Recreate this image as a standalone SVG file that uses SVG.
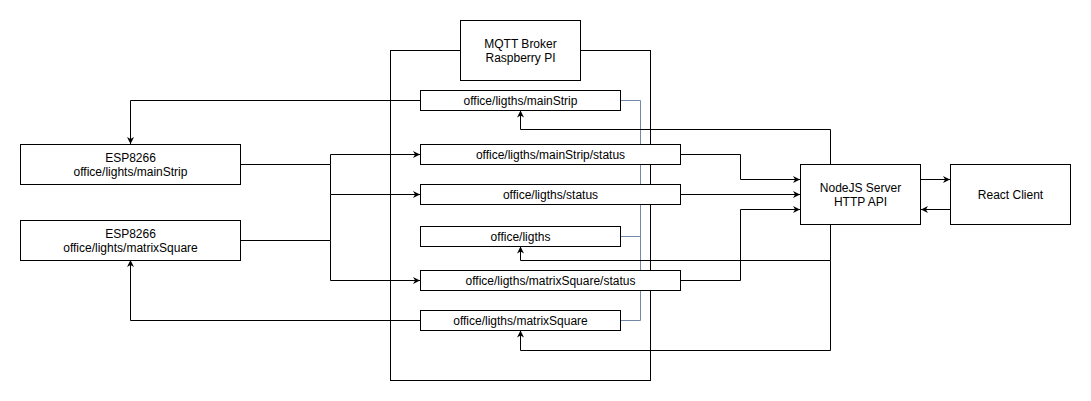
<svg xmlns="http://www.w3.org/2000/svg" width="1091" height="401" viewBox="0 0 1091 401">
<style>
.box{fill:#fff;stroke:#000;stroke-width:1}
.ln{fill:none;stroke:#000;stroke-width:1}
.bl{fill:none;stroke:#7189a6;stroke-width:1}
.arr{marker-end:url(#ah)}
text{font-family:"Liberation Sans",Arial,sans-serif;font-size:12px;fill:#000;text-anchor:middle}
</style>
<defs>
<marker id="ah" viewBox="0 0 10 10" refX="10" refY="5" markerWidth="7" markerHeight="7" markerUnits="userSpaceOnUse" orient="auto">
<path d="M0,0 L10,5 L0,10 L3,5 Z" fill="#000"/>
</marker>
</defs>
<rect width="1091" height="401" fill="#fff"/>
<g id="container"><rect class="box" x="390.5" y="50.5" width="260" height="330"/></g>
<g id="connectors">
<path class="bl" d="M620.5,100.5 H640.5 V320.5 H620.5 M620.5,236.5 H640.5"/>
<path class="ln arr" d="M420.5,100.5 H130.5 V144"/>
<path class="ln arr" d="M420.5,320.5 H130.5 V260"/>
<path class="ln arr" d="M240.5,164.5 H330.5 V154.5 H420"/>
<path class="ln arr" d="M330.5,164.5 V194.5 H420"/>
<path class="ln arr" d="M240.5,240.5 H330.5 V280.5 H420"/>
<path class="ln" d="M330.5,194.5 V240.5"/>
<path class="ln arr" d="M680.5,154.5 H740.5 V179.5 H800"/>
<path class="ln arr" d="M680.5,194.5 H800"/>
<path class="ln arr" d="M680.5,280.5 H740.5 V209.5 H800"/>
<path class="ln arr" d="M920.5,179.5 H950"/>
<path class="ln arr" d="M950.5,209.5 H921"/>
<path class="ln arr" d="M830.5,164.5 V129.5 H520.5 V110.5"/>
<path class="ln arr" d="M830.5,224.5 V260.5 H520.5 V246.5"/>
<path class="ln arr" d="M830.5,260.5 V350.5 H520.5 V330.5"/>
</g>
<g id="mqtt"><rect class="box" x="460.5" y="20.5" width="120" height="60"/><text x="520.5" y="48">MQTT Broker</text><text x="520.5" y="62">Raspberry PI</text></g>
<g id="t-mainStrip"><rect class="box" x="420.5" y="90.5" width="200" height="20"/><text x="520.5" y="104.5">office/ligths/mainStrip</text></g>
<g id="t-mainStrip-status"><rect class="box" x="420.5" y="144.5" width="260" height="20"/><text x="550.5" y="158.5">office/ligths/mainStrip/status</text></g>
<g id="t-status"><rect class="box" x="420.5" y="184.5" width="260" height="20"/><text x="550.5" y="198.5">office/ligths/status</text></g>
<g id="t-ligths"><rect class="box" x="420.5" y="226.5" width="200" height="20"/><text x="520.5" y="240.5">office/ligths</text></g>
<g id="t-matrix-status"><rect class="box" x="420.5" y="270.5" width="260" height="20"/><text x="550.5" y="284.5">office/ligths/matrixSquare/status</text></g>
<g id="t-matrix"><rect class="box" x="420.5" y="310.5" width="200" height="20"/><text x="520.5" y="324.5">office/ligths/matrixSquare</text></g>
<g id="esp-main"><rect class="box" x="20.5" y="144.5" width="220" height="40"/><text x="130.5" y="162">ESP8266</text><text x="130.5" y="176">office/lights/mainStrip</text></g>
<g id="esp-matrix"><rect class="box" x="20.5" y="220.5" width="220" height="40"/><text x="130.5" y="238">ESP8266</text><text x="130.5" y="252">office/lights/matrixSquare</text></g>
<g id="nodejs"><rect class="box" x="800.5" y="164.5" width="120" height="60"/><text x="860.5" y="192">NodeJS Server</text><text x="860.5" y="206">HTTP API</text></g>
<g id="react"><rect class="box" x="950.5" y="164.5" width="120" height="60"/><text x="1010.5" y="198.5">React Client</text></g>
</svg>
